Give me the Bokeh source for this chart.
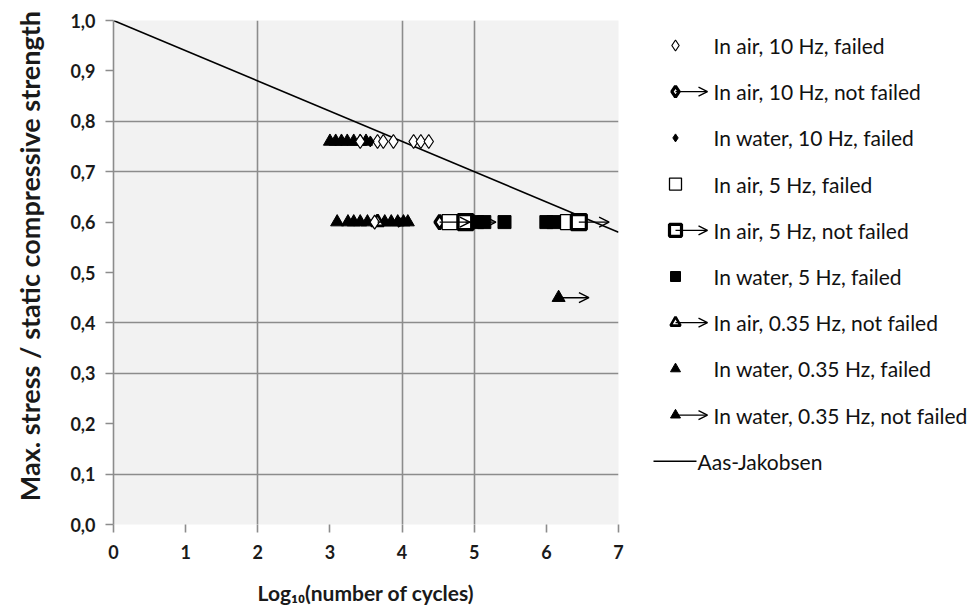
from bokeh.plotting import figure
from bokeh.models import (Range1d, FixedTicker, CustomJSTickFormatter, Arrow,
                          OpenHead, ColumnDataSource)
from bokeh.layouts import row
from bokeh.embed import file_html
from bokeh.resources import INLINE
from bokeh.core.properties import value

FONT = "Lato"

# ---- fatigue test results: log10(N) vs. max stress level ----
air10_failed_x = [3.42, 3.66, 3.74, 3.88, 4.16, 4.26, 4.37, 3.62]
air10_failed_y = [0.76, 0.76, 0.76, 0.76, 0.76, 0.76, 0.76, 0.60]

air10_notfailed_x = [4.52]
air10_notfailed_y = [0.60]

water10_failed_x = [3.56]
water10_failed_y = [0.76]

air5_failed_x = [4.66, 6.30]
air5_failed_y = [0.60, 0.60]

air5_notfailed_x = [4.88, 6.45]
air5_notfailed_y = [0.60, 0.60]

water5_failed_x = [5.04, 5.14, 5.42, 6.00, 6.10]
water5_failed_y = [0.60, 0.60, 0.60, 0.60, 0.60]

air035_notfailed_x = [3.66]
air035_notfailed_y = [0.60]

water035_failed_x = [3.00, 3.08, 3.16, 3.24, 3.33, 3.42, 3.50,
                     3.10, 3.25, 3.33, 3.42, 3.52, 3.76, 3.85, 3.94, 4.02, 4.08]
water035_failed_y = [0.76, 0.76, 0.76, 0.76, 0.76, 0.76, 0.76,
                     0.60, 0.60, 0.60, 0.60, 0.60, 0.60, 0.60, 0.60, 0.60, 0.60]

water035_notfailed_x = [6.17]
water035_notfailed_y = [0.45]

# Aas-Jakobsen S-N line
aas_x = [0.0, 7.0]
aas_y = [1.0, 0.58]

x_ticks = [0, 1, 2, 3, 4, 5, 6, 7]
y_ticks = [0.0, 0.1, 0.2, 0.3, 0.4, 0.5, 0.6, 0.7, 0.8, 0.9, 1.0]

# ---- marker styles ----
STY = {
    "air10_f": dict(marker="diamond", size=14, fill_color="white", line_color="black", line_width=1.2),
    "air10_nf": dict(marker="diamond", size=14, fill_color="white", line_color="black", line_width=3.2),
    "water10_f": dict(marker="diamond", size=11, fill_color="black", line_color="black", line_width=1),
    "air5_f": dict(marker="square", size=15, fill_color="white", line_color="black", line_width=1.3),
    "air5_nf": dict(marker="square", size=15, fill_color="white", line_color="black", line_width=3.2),
    "water5_f": dict(marker="square", size=13, fill_color="black", line_color="black", line_width=1),
    "air035_nf": dict(marker="triangle", size=13, fill_color="white", line_color="black", line_width=2.6),
    "water035_f": dict(marker="triangle", size=13, fill_color="black", line_color="black", line_width=1),
    "water035_nf": dict(marker="triangle", size=13, fill_color="black", line_color="black", line_width=1),
}
ARROW_LEN = 0.42  # run-out arrow length in decades

GRID = "#8c8c8c"
TOP, BOTTOM = 20, 89           # borders shared by both panels
MAIN_W, LEG_W, H = 628, 348, 613

p = figure(width=MAIN_W, height=H, x_range=Range1d(0, 7), y_range=Range1d(0, 1),
           output_backend="svg", toolbar_location=None,
           min_border_left=113, min_border_right=10, min_border_top=TOP, min_border_bottom=BOTTOM,
           background_fill_color="#f2f2f2", border_fill_color="white")
p.outline_line_color = None

p.xgrid.ticker = FixedTicker(ticks=[0, 2, 4, 5, 7])
p.ygrid.ticker = FixedTicker(ticks=[0.1, 0.3, 0.4, 0.7, 0.8, 1.0])
for g in (p.xgrid, p.ygrid):
    g.grid_line_color = GRID
    g.grid_line_width = 1.6

p.xaxis.ticker = FixedTicker(ticks=x_ticks)
p.yaxis.ticker = FixedTicker(ticks=y_ticks)
p.yaxis.formatter = CustomJSTickFormatter(code="return tick.toFixed(1).replace('.', ',');")
p.xaxis.formatter = CustomJSTickFormatter(code="return tick.toFixed(0);")

for ax in (p.xaxis, p.yaxis):
    ax.major_tick_out = 8
    ax.major_tick_in = 0
    ax.minor_tick_line_color = None
    ax.major_tick_line_color = GRID
    ax.major_tick_line_width = 1.6
    ax.major_label_text_font = FONT
    ax.major_label_text_font_size = "18px"
    ax.major_label_text_font_style = "bold"
    ax.major_label_text_color = "#1a1a1a"
    ax.axis_label_text_font = FONT
    ax.axis_label_text_font_style = "bold"
    ax.axis_label_text_color = "#1a1a1a"

p.xaxis.axis_line_color = None
p.yaxis.axis_line_color = GRID
p.yaxis.axis_line_width = 1.6
p.yaxis.major_label_standoff = 10
p.xaxis.major_label_standoff = 12
# leading no-break spaces nudge the rotated title a little towards the top
p.yaxis.axis_label = "\u00a0" * 5 + "Max. stress / static compressive strength"
p.xaxis.axis_label = "Log\u2081\u2080(number of cycles)"
p.yaxis.axis_label_text_font_size = "27px"
p.xaxis.axis_label_text_font_size = "21px"
p.yaxis.axis_label_standoff = 21
p.xaxis.axis_label_standoff = 18

# Aas-Jakobsen line
p.line(aas_x, aas_y, line_color="black", line_width=1.6)


def runout_arrows(fig, xs, ys, length, head=10, width=1.4):
    src = ColumnDataSource(dict(x0=xs, y0=ys, x1=[x + length for x in xs], y1=ys))
    fig.add_layout(Arrow(x_start="x0", y_start="y0", x_end="x1", y_end="y1", source=src,
                         line_color="black", line_width=width,
                         end=OpenHead(size=head, line_color="black", line_width=width)))


# run-out arrows first so markers sit on top
runout_arrows(p, air10_notfailed_x, air10_notfailed_y, ARROW_LEN)
runout_arrows(p, air5_notfailed_x, air5_notfailed_y, ARROW_LEN)
runout_arrows(p, air035_notfailed_x, air035_notfailed_y, ARROW_LEN)
runout_arrows(p, water035_notfailed_x, water035_notfailed_y, ARROW_LEN)

series = [
    ("water035_f", water035_failed_x, water035_failed_y),
    ("air035_nf", air035_notfailed_x, air035_notfailed_y),
    ("air10_f", air10_failed_x, air10_failed_y),
    ("water10_f", water10_failed_x, water10_failed_y),
    ("air10_nf", air10_notfailed_x, air10_notfailed_y),
    ("air5_f", air5_failed_x, air5_failed_y),
    ("air5_nf", air5_notfailed_x, air5_notfailed_y),
    ("water5_f", water5_failed_x, water5_failed_y),
    ("water035_nf", water035_notfailed_x, water035_notfailed_y),
]
for key, xs, ys in series:
    p.scatter(xs, ys, **STY[key])

# ---- legend panel: its frame shares the main frame's top/bottom, coordinates in page pixels ----
lg = figure(width=LEG_W, height=H, x_range=Range1d(MAIN_W, MAIN_W + LEG_W),
            y_range=Range1d(H - BOTTOM, TOP),
            output_backend="svg", toolbar_location=None,
            min_border_left=0, min_border_right=0, min_border_top=TOP, min_border_bottom=BOTTOM,
            x_axis_type=None, y_axis_type=None, border_fill_color="white",
            background_fill_color="white")
lg.outline_line_color = None

legend_items = [
    ("air10_f", "In air, 10 Hz, failed", False),
    ("air10_nf", "In air, 10 Hz, not failed", True),
    ("water10_f", "In water, 10 Hz, failed", False),
    ("air5_f", "In air, 5 Hz, failed", False),
    ("air5_nf", "In air, 5 Hz, not failed", True),
    ("water5_f", "In water, 5 Hz, failed", False),
    ("air035_nf", "In air, 0.35 Hz, not failed", True),
    ("water035_f", "In water, 0.35 Hz, failed", False),
    ("water035_nf", "In water, 0.35 Hz, not failed", True),
]
ROW0, ROWH = 45, 46.2
MX, TX = 675, 713
LEG_FONT = "21px"
for i, (key, label, arrow) in enumerate(legend_items):
    yy = ROW0 + i * ROWH
    sty = dict(STY[key])
    sty["size"] = sty["size"] - 3
    if arrow:
        runout_arrows(lg, [MX], [yy], 32, head=9, width=1.3)
    lg.scatter([MX], [yy], **sty)
    lg.text([TX], [yy], text=[label], text_font=value(FONT), text_font_size=LEG_FONT,
            text_color="#111111", text_baseline="middle", text_align="left")

ya = ROW0 + 9 * ROWH
lg.line([653, 696], [ya, ya], line_color="black", line_width=1.4)
lg.text([697], [ya], text=["Aas-Jakobsen"], text_font=value(FONT), text_font_size=LEG_FONT,
        text_color="#111111", text_baseline="middle", text_align="left")

layout = row(p, lg)
open("out.html", "w").write(file_html(layout, INLINE))
